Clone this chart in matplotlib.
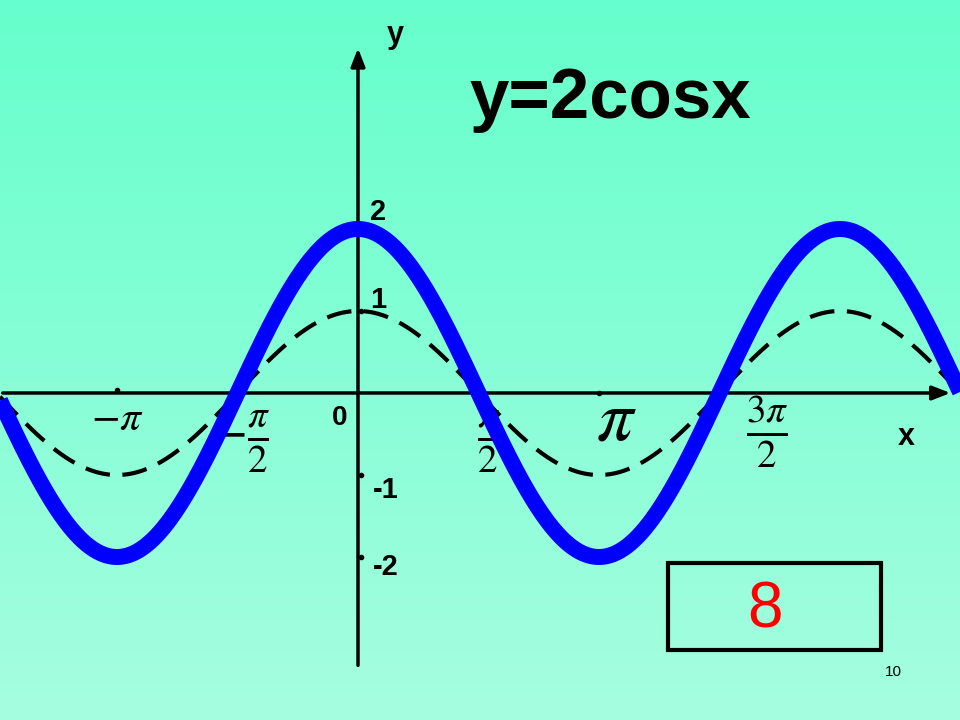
import numpy as np
import matplotlib.pyplot as plt
from matplotlib.patches import Rectangle

plt.rcParams['mathtext.fontset'] = 'stix'

# data
x_left, x_right = -358 / 241 * np.pi, 602 / 241 * np.pi
x = np.linspace(x_left, x_right, 800)
amp_main = 2      # y = 2cos x
amp_ref = 1       # y = cos x (dashed)

xtick_vals = [-np.pi, -np.pi / 2, np.pi / 2, np.pi, 3 * np.pi / 2]
xtick_labels = [r'$-\pi$', r'$-\frac{\pi}{2}$', r'$\frac{\pi}{2}$', r'$\pi$', r'$\frac{3\pi}{2}$']
xtick_sizes = [30, 40, 40, 52, 40]
xtick_dx = [0.0, 0.02, 0.13, 0.22, 0.62]
xtick_dy = [-0.30, -0.60, -0.60, -0.33, -0.47]

ytick_vals = [2, 1, -1, -2]
ytick_labels = ['2', '1', '-1', '-2']
ytick_dy = [0.21, 0.13, -0.18, -0.12]

fig = plt.figure(figsize=(9.6, 7.2), dpi=100)

# gradient background
bg = fig.add_axes([0, 0, 1, 1])
grad = np.linspace(0, 1, 256)[:, None]
top = np.array([102, 255, 204]) / 255
bot = np.array([166, 253, 224]) / 255
img = top[None, None, :] * (1 - grad[:, :, None]) + bot[None, None, :] * grad[:, :, None]
bg.imshow(img, aspect='auto', extent=[0, 1, 0, 1])
bg.axis('off')

ax = fig.add_axes([0, 0, 1, 1])
ax.patch.set_alpha(0)
ax.set_xlim(x_left, x_right)
ax.set_ylim(-(720 - 393) / 82, 393 / 82)
ax.axis('off')

# axes with arrows
arrow = dict(arrowstyle='-|>,head_length=0.9,head_width=0.35',
             lw=2.5, color='black', mutation_scale=12)
ax.annotate('', xy=(0.993, 0), xytext=(0, 0), xycoords=ax.get_yaxis_transform(),
            arrowprops=arrow, zorder=2)
ax.annotate('', xy=(0, 0.937), xytext=(0, 0.072), xycoords=ax.get_xaxis_transform(),
            arrowprops=arrow, zorder=2)

# small tick dots
ax.plot([-np.pi, np.pi], [0.04, 0], 'o', color='black', ms=3, zorder=2)
ax.plot([0.04, 0.04, 0.04], [1, -1, -2], 'o', color='black', ms=3, zorder=2)

# tick labels
for v, lab, fs, dx, dy in zip(xtick_vals, xtick_labels, xtick_sizes, xtick_dx, xtick_dy):
    ax.text(v + dx, dy, lab, fontsize=fs, ha='center', va='center', zorder=3)
for v, lab, dy in zip(ytick_vals, ytick_labels, ytick_dy):
    dx = 0.26 if v > 0 else 0.36
    ax.text(dx, v + dy, lab, fontsize=21, fontweight='bold', family='Liberation Sans',
            ha='center', va='center', zorder=3)
ax.text(-0.235, -0.30, '0', fontsize=20, fontweight='bold', family='Liberation Sans',
        ha='center', va='center')
ax.text(0.48, 4.37, 'y', fontsize=22, fontweight='bold', family='Liberation Sans',
        ha='center', va='center')
ax.text(7.15, -0.54, 'x', fontsize=22, fontweight='bold', family='Liberation Sans',
        ha='center', va='center')

# curves
ax.plot(x, amp_ref * np.cos(x), color='black', lw=3, dashes=(6, 3), zorder=4)
ax.plot(x, amp_main * np.cos(x), color='#0000FF', lw=11.5, zorder=5,
        solid_capstyle='butt')

# title
ax.text(3.285, 3.57, 'y=2cosx', fontsize=51, fontweight='bold', family='Liberation Sans',
        ha='center', va='center')

# answer box
fig.add_artist(Rectangle((668 / 960, 1 - 650 / 720), 213 / 960, 87 / 720,
                         transform=fig.transFigure, fill=False, lw=3, ec='black'))
fig.text(765 / 960, 1 - 611 / 720, '8', fontsize=46, color='#FF0000',
         family='Liberation Sans', ha='center', va='center')
fig.text(893 / 960, 1 - 672 / 720, '10', fontsize=11, family='Liberation Sans',
         ha='center', va='center')

fig.savefig('out.png', dpi=100)
